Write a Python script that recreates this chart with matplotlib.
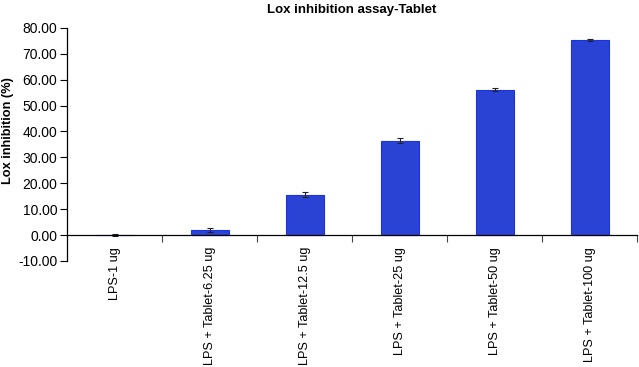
import matplotlib.pyplot as plt
import numpy as np

plt.rcParams['font.family'] = ['Liberation Sans', 'DejaVu Sans']

# data
categories = ['LPS-1 ug', 'LPS + Tablet-6.25 ug', 'LPS + Tablet-12.5 ug',
              'LPS + Tablet-25 ug', 'LPS + Tablet-50 ug', 'LPS + Tablet-100 ug']
values = [0.0, 1.9, 15.6, 36.5, 56.2, 75.2]
errors = [0.3, 0.8, 1.0, 0.9, 0.4, 0.4]
yticks = [-10, 0, 10, 20, 30, 40, 50, 60, 70, 80]

fig = plt.figure(figsize=(6.39, 3.67), dpi=100)
ax = fig.add_axes([0.105, 0.289, 0.892, 0.635])

x = np.arange(len(categories))
ax.bar(x, values, width=0.4, color='#2A43D4', edgecolor='#1A33E0', linewidth=0.8,
       yerr=errors, error_kw=dict(ecolor='#222222', elinewidth=0.8, capsize=2.5, capthick=0.8))

ax.set_xlim(-0.5, len(categories) - 0.5)
ax.set_ylim(-10, 80)
ax.set_yticks(yticks)
ax.set_yticklabels(['%.2f' % v for v in yticks])
ax.tick_params(axis='y', length=5, width=0.8, pad=2, labelsize=10)

ax.set_xticks(x)
ax.set_xticks(np.arange(len(categories)) + 0.5, minor=True)
ax.set_xticklabels(categories)
ax.tick_params(axis='x', which='major', length=0, pad=8.5, labelrotation=90, labelsize=9.1)
ax.tick_params(axis='x', which='minor', length=5, width=0.8, color='#444444')

ax.spines['top'].set_visible(False)
ax.spines['right'].set_visible(False)
ax.spines['bottom'].set_position(('data', 0))
ax.spines['left'].set_linewidth(0.9)
ax.spines['bottom'].set_linewidth(0.9)

ax.set_ylabel('Lox inhibition (%)', fontsize=9.2, fontweight='bold')
ax.yaxis.set_label_coords(-0.093, 0.56)
ax.set_title('Lox inhibition assay-Tablet', fontsize=9.5, fontweight='bold', pad=11)

plt.savefig('out.png')
